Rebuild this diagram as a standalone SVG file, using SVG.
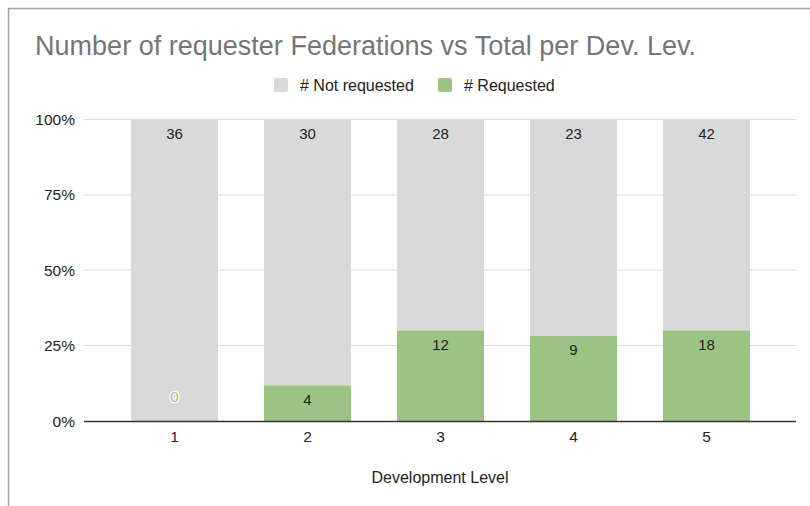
<svg xmlns="http://www.w3.org/2000/svg" width="810" height="506" viewBox="0 0 810 506">
<style>
  text { font-family: "Liberation Sans", Arial, Helvetica, sans-serif; fill: #222222; }
  .title { font-size: 27px; fill: #757575; }
  .legend { font-size: 16px; fill: #222222; }
  .ylab { font-size: 15.5px; text-anchor: end; }
  .xlab { font-size: 15.5px; text-anchor: middle; }
  .val { font-size: 15px; text-anchor: middle; }
  .grid { stroke: #d9d9d9; stroke-width: 1; }
  .nr { fill: #d9d9d9; }
  .rq { fill: #9cc383; }
</style>
<rect x="0" y="0" width="810" height="506" fill="#ffffff"/>
<path d="M8.5 506 V8.5 H810" fill="none" stroke="#a0a0a0" stroke-width="1.5"/>
<text class="title" x="35" y="55" textLength="661" lengthAdjust="spacingAndGlyphs">Number of requester Federations vs Total per Dev. Lev.</text>
<g id="legend">
  <rect x="274" y="78" width="14" height="14" rx="2" class="nr"/>
  <text class="legend" x="300" y="91"># Not requested</text>
  <rect x="438" y="78" width="14" height="14" rx="2" class="rq"/>
  <text class="legend" x="464" y="91"># Requested</text>
</g>
<g id="gridlines">
  <line class="grid" x1="84" y1="119.5" x2="796" y2="119.5"/>
  <line class="grid" x1="84" y1="195" x2="796" y2="195"/>
  <line class="grid" x1="84" y1="270" x2="796" y2="270"/>
  <line class="grid" x1="84" y1="345.5" x2="796" y2="345.5"/>
</g>
<g id="y-axis">
  <text class="ylab" x="75" y="124.5">100%</text>
  <text class="ylab" x="75" y="200">75%</text>
  <text class="ylab" x="75" y="275.5">50%</text>
  <text class="ylab" x="75" y="351">25%</text>
  <text class="ylab" x="75" y="426.5">0%</text>
</g>
<g id="bar1">
  <rect class="nr" x="131" y="119" width="87" height="302"/>
  <text class="val" x="174.5" y="138.5">36</text>
  <text class="val" x="174.5" y="402" stroke="#ffffff" stroke-width="2.5" paint-order="stroke" style="fill:#9cc383">0</text>
</g>
<g id="bar2">
  <rect class="nr" x="264" y="119" width="87" height="266.5"/>
  <rect class="rq" x="264" y="385.5" width="87" height="35.5"/>
  <text class="val" x="307.5" y="138.5">30</text>
  <text class="val" x="307.5" y="405">4</text>
</g>
<g id="bar3">
  <rect class="nr" x="397" y="119" width="87" height="211.4"/>
  <rect class="rq" x="397" y="330.4" width="87" height="90.6"/>
  <text class="val" x="440.5" y="138.5">28</text>
  <text class="val" x="440.5" y="349.5">12</text>
</g>
<g id="bar4">
  <rect class="nr" x="530" y="119" width="87" height="217"/>
  <rect class="rq" x="530" y="336" width="87" height="85"/>
  <text class="val" x="573.5" y="138.5">23</text>
  <text class="val" x="573.5" y="355">9</text>
</g>
<g id="bar5">
  <rect class="nr" x="663" y="119" width="87" height="211.4"/>
  <rect class="rq" x="663" y="330.4" width="87" height="90.6"/>
  <text class="val" x="706.5" y="138.5">42</text>
  <text class="val" x="706.5" y="349.5">18</text>
</g>
<g id="x-axis">
  <line x1="84" y1="421.5" x2="796" y2="421.5" stroke="#333333" stroke-width="1.3"/>
  <text class="xlab" x="174.5" y="442">1</text>
  <text class="xlab" x="307.5" y="442">2</text>
  <text class="xlab" x="440.5" y="442">3</text>
  <text class="xlab" x="573.5" y="442">4</text>
  <text class="xlab" x="706.5" y="442">5</text>
  <text class="xlab" x="440" y="483" style="font-size:16px">Development Level</text>
</g>
</svg>
